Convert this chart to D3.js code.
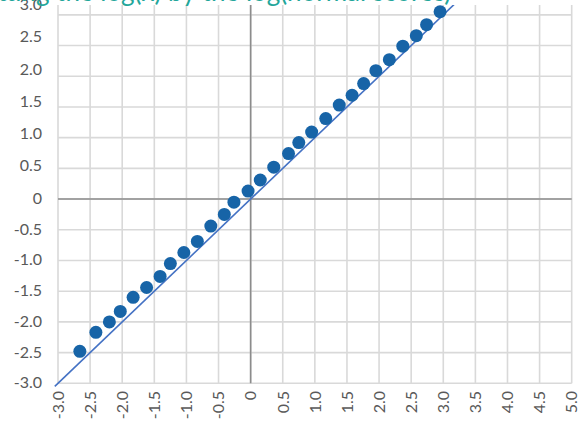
<!DOCTYPE html>
<html>
<head>
<meta charset="utf-8">
<script src="https://cdn.jsdelivr.net/npm/d3@7"></script>
<style>
  html, body { margin: 0; padding: 0; background: #fff; overflow: hidden; }
  svg { display: block; font-family: Lato, "Open Sans", sans-serif; }
</style>
</head>
<body>
<svg id="chart" width="586" height="425"></svg>
<script>
// Observed values (x, y)
const xValues = [-2.66, -2.41, -2.20, -2.03, -1.83, -1.62, -1.41, -1.25, -1.04, -0.83,
                 -0.62, -0.41, -0.26, -0.04, 0.15, 0.36, 0.59, 0.75, 0.95, 1.17,
                 1.38, 1.58, 1.76, 1.95, 2.16, 2.37, 2.58, 2.74, 2.95];
const yValues = [-2.48, -2.17, -2.00, -1.83, -1.60, -1.44, -1.26, -1.05, -0.87, -0.69,
                 -0.44, -0.25, -0.05, 0.13, 0.31, 0.52, 0.74, 0.92, 1.09, 1.31,
                 1.53, 1.69, 1.88, 2.09, 2.27, 2.49, 2.66, 2.84, 3.05];

// Reference line y = x
const refLineX = [-3.05, 3.2];

// Tick values and labels
const xTicks = [-3, -2.5, -2, -1.5, -1, -0.5, 0, 0.5, 1, 1.5, 2, 2.5, 3, 3.5, 4, 4.5, 5];
const yTicks = [-3, -2.5, -2, -1.5, -1, -0.5, 0, 0.5, 1, 1.5, 2, 2.5, 3];
const fmt = v => v === 0 ? "0" : v.toFixed(1);

const titleText = "Plotting the log(x) by the log(normal scores)";

const svg = d3.select("#chart");

const x = d3.scaleLinear().domain([-3, 5]).range([58, 571.7]);
const y = d3.scaleLinear().domain([-3, 3.16]).range([383.3, 5]);
// the y tick labels sit on their own spacing
const yLabel = d3.scaleLinear().domain([-3, 0, 3]).range([382.5, 198, 4.4]);

svg.append("defs").append("clipPath").attr("id", "plotClip")
  .append("rect")
  .attr("x", 50).attr("y", y(3.16))
  .attr("width", 530).attr("height", y(-3) - y(3.16) + 4);

// Gridlines
const grid = svg.append("g").attr("stroke", "#d9d9d9").attr("stroke-width", 1.6);
grid.selectAll("line.v").data(xTicks).join("line")
  .attr("class", "v")
  .attr("x1", d => x(d)).attr("x2", d => x(d))
  .attr("y1", y(3.16)).attr("y2", y(-3));
grid.selectAll("line.h").data(yTicks).join("line")
  .attr("class", "h")
  .attr("x1", x(-3)).attr("x2", x(5))
  .attr("y1", d => y(d)).attr("y2", d => y(d));

// Zero axes
const axes = svg.append("g").attr("stroke", "#8c8c8c").attr("stroke-width", 1.6);
axes.append("line")
  .attr("x1", x(0)).attr("x2", x(0))
  .attr("y1", y(3.16)).attr("y2", y(-3));
axes.append("line")
  .attr("x1", x(-3)).attr("x2", x(5))
  .attr("y1", y(0)).attr("y2", y(0));

// Y tick labels
svg.append("g").selectAll("text").data(yTicks).join("text")
  .attr("x", 42)
  .attr("y", d => yLabel(d))
  .attr("dy", "0.36em")
  .attr("text-anchor", "end")
  .attr("font-size", 16)
  .attr("fill", "#595959")
  .text(fmt);

// X tick labels (rotated)
svg.append("g").selectAll("text").data(xTicks).join("text")
  .attr("transform", d => `translate(${x(d)},391) rotate(-90)`)
  .attr("dy", "0.36em")
  .attr("text-anchor", "end")
  .attr("font-size", 16)
  .attr("fill", "#595959")
  .text(fmt);

// Reference line
const plot = svg.append("g").attr("clip-path", "url(#plotClip)");
plot.append("path")
  .datum(refLineX)
  .attr("d", d3.line().x(d => x(d)).y(d => y(d)))
  .attr("fill", "none")
  .attr("stroke", "#4472c4")
  .attr("stroke-width", 1.6);

// Points
svg.append("g").selectAll("circle").data(xValues).join("circle")
  .attr("cx", d => x(d))
  .attr("cy", (d, i) => y(yValues[i]))
  .attr("r", 6.5)
  .attr("fill", "#1764a7");

// Title (sits mostly above the visible area)
svg.append("text")
  .attr("x", -39)
  .attr("y", 0.5)
  .attr("font-size", 26)
  .attr("fill", "#23a69a")
  .text(titleText);
</script>
</body>
</html>
